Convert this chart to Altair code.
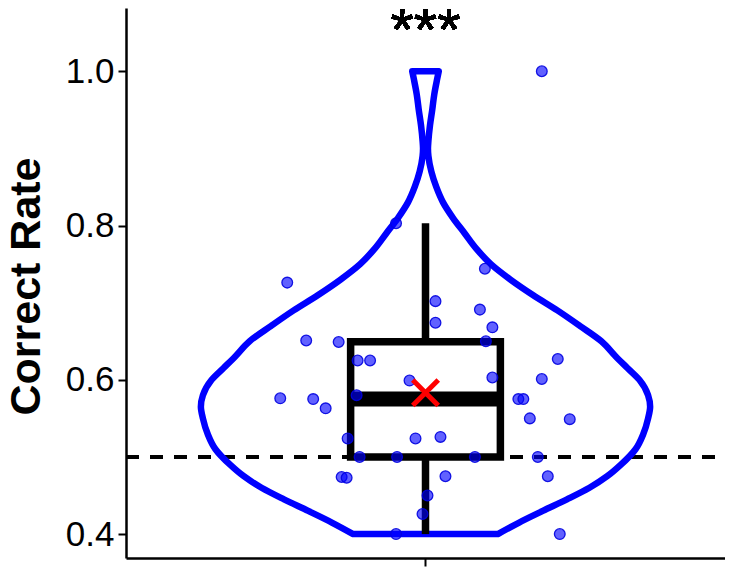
import altair as alt
import pandas as pd

# ---- data ----
y_values = [1.000, 0.726, 0.803, 0.744, 0.702, 0.674, 0.691, 0.668, 0.650, 0.651,
            0.649, 0.625, 0.625, 0.599, 0.627, 0.601, 0.603, 0.576, 0.575, 0.563,
            0.580, 0.524, 0.500, 0.500, 0.524, 0.474, 0.473, 0.575, 0.575, 0.550,
            0.549, 0.526, 0.500, 0.500, 0.475, 0.475, 0.450, 0.426, 0.400, 0.400]
x_jitter = [0.233, -0.277, -0.059, 0.119, 0.020, 0.020, 0.109, 0.134, 0.121, -0.239,
            -0.174, -0.136, -0.111, -0.032, 0.265, 0.233, 0.134, -0.291, -0.225, -0.200,
            -0.138, -0.156, -0.132, -0.057, -0.020, -0.168, -0.158, 0.186, 0.196, 0.209,
            0.289, 0.030, 0.099, 0.225, 0.040, 0.245, 0.004, -0.006, -0.059, 0.269]

# violin outline: relative half-width (max = 1) at each rate
violin_y = [0.400, 0.415, 0.430, 0.445, 0.460, 0.475, 0.490, 0.510, 0.530, 0.550,
            0.565, 0.580, 0.600, 0.615, 0.630, 0.650, 0.670, 0.690, 0.710, 0.730,
            0.750, 0.770, 0.790, 0.810, 0.830, 0.850, 0.870, 0.890, 0.900, 0.910,
            0.930, 0.950, 0.970, 0.990, 1.000]
violin_w = [0.322, 0.417, 0.522, 0.630, 0.730, 0.809, 0.870, 0.935, 0.970, 0.991,
            1.000, 0.991, 0.952, 0.900, 0.848, 0.783, 0.687, 0.587, 0.478, 0.378,
            0.291, 0.226, 0.174, 0.122, 0.078, 0.048, 0.026, 0.013, 0.011, 0.013,
            0.020, 0.030, 0.039, 0.052, 0.059]

tick_values = [0.4, 0.6, 0.8, 1.0]
chance_level = 0.5
stars = "***"
y_title = "Correct Rate"

VIOLIN_HALF = 0.45
BOX_HALF = 0.15
CENTER = 1.0

pts = pd.DataFrame({"x": [CENTER + j for j in x_jitter], "y": y_values})
vio = pd.DataFrame({
    "y": violin_y,
    "xl": [CENTER - w * VIOLIN_HALF for w in violin_w],
    "xr": [CENTER + w * VIOLIN_HALF for w in violin_w],
})

xs = alt.Scale(domain=[0.4, 1.6], nice=False, zero=False)
ys = alt.Scale(domain=[0.369, 1.082], nice=False, zero=False)

FONT = "Liberation Sans"
xaxis = alt.Axis(values=[1], labels=False, title="", tickSize=8, tickWidth=2,
                 tickColor="black", domainColor="black", domainWidth=2.5, grid=False)
yaxis = alt.Axis(values=tick_values, format=".1f", labelFontSize=35, labelFont=FONT,
                 labelColor="black", tickSize=8, tickWidth=2, tickColor="black",
                 domainColor="black", domainWidth=2.5, labelPadding=4, grid=False,
                 title=y_title, titleFont=FONT, titleFontSize=43, titleFontWeight="bold",
                 titleColor="black", titleX=-100, titleY=278, titleAngle=-90,
                 titleBaseline="middle", titleAlign="center")


def X(field=None, datum=None):
    if datum is not None:
        return alt.X(datum=datum, scale=xs, axis=xaxis, type="quantitative")
    return alt.X(field, type="quantitative", scale=xs, axis=xaxis)


def Y(field=None, datum=None):
    if datum is not None:
        return alt.Y(datum=datum, scale=ys, axis=yaxis, type="quantitative")
    return alt.Y(field, type="quantitative", scale=ys, axis=yaxis)


base = alt.Chart(pts)

chance = alt.Chart(pts).mark_rule(color="black", strokeWidth=2.5, strokeDash=[13, 11]).encode(
    y=Y(datum=chance_level), x=alt.value(0), x2=alt.value(599)
)

violin = alt.Chart(vio).mark_area(
    orient="horizontal", interpolate="monotone", fillOpacity=0, fill="white",
    stroke="#0000FF", strokeWidth=6.5, strokeJoin="round"
).encode(y=Y("y"), x=X("xl"), x2="xr")

stats = base.transform_joinaggregate(
    q1="q1(y)", q3="q3(y)"
).transform_calculate(
    lo="datum.q1 - 1.5*(datum.q3-datum.q1)", hi="datum.q3 + 1.5*(datum.q3-datum.q1)"
).transform_filter(
    "datum.y >= datum.lo && datum.y <= datum.hi"
).transform_aggregate(
    wlo="min(y)", whi="max(y)", q1="min(q1)", q3="min(q3)"
)

whisk_lo = stats.mark_rule(color="black", strokeWidth=7.5).encode(
    x=X(datum=CENTER), y=Y("wlo"), y2="q1:Q")
whisk_hi = stats.mark_rule(color="black", strokeWidth=7.5).encode(
    x=X(datum=CENTER), y=Y("q3"), y2="whi:Q")

boxagg = base.transform_aggregate(q1="q1(y)", q3="q3(y)", med="median(y)", mean="mean(y)")
box = boxagg.mark_rect(fillOpacity=0, fill="white", stroke="black", strokeWidth=7.5).encode(
    x=X(datum=CENTER - BOX_HALF), x2=alt.X2(datum=CENTER + BOX_HALF), y=Y("q1"), y2="q3:Q")
median = boxagg.mark_rule(color="black", strokeWidth=15).encode(
    x=X(datum=CENTER - BOX_HALF), x2=alt.X2(datum=CENTER + BOX_HALF), y=Y("med"))

points = base.mark_circle(size=115, fill="#0000FF", fillOpacity=0.62, stroke="#0000E0",
                          strokeOpacity=0.9, strokeWidth=1.3).encode(x=X("x"), y=Y("y"))

mean_mark = boxagg.mark_point(shape="M-1,-1L1,1M-1,1L1,-1", filled=False, stroke="#FF0000",
                              strokeWidth=5, size=650, opacity=1).encode(
    x=X(datum=CENTER), y=Y("mean"))

star_text = alt.Chart(pts).mark_text(text=stars, fontSize=60, font=FONT, color="black",
                                     align="center", baseline="alphabetic").encode(
    x=X(datum=CENTER), y=Y(datum=1.027))

chart = alt.layer(
    chance, violin, whisk_lo, whisk_hi, box, median, points, mean_mark, star_text
).properties(
    width=599, height=550, autosize=alt.AutoSizeParams(type="none"),
    padding={"left": 118, "top": 0, "right": 0, "bottom": 12},
    background="white"
).configure_view(stroke=None)

chart.save("out.html", embed_options={"renderer": "svg", "actions": False})
